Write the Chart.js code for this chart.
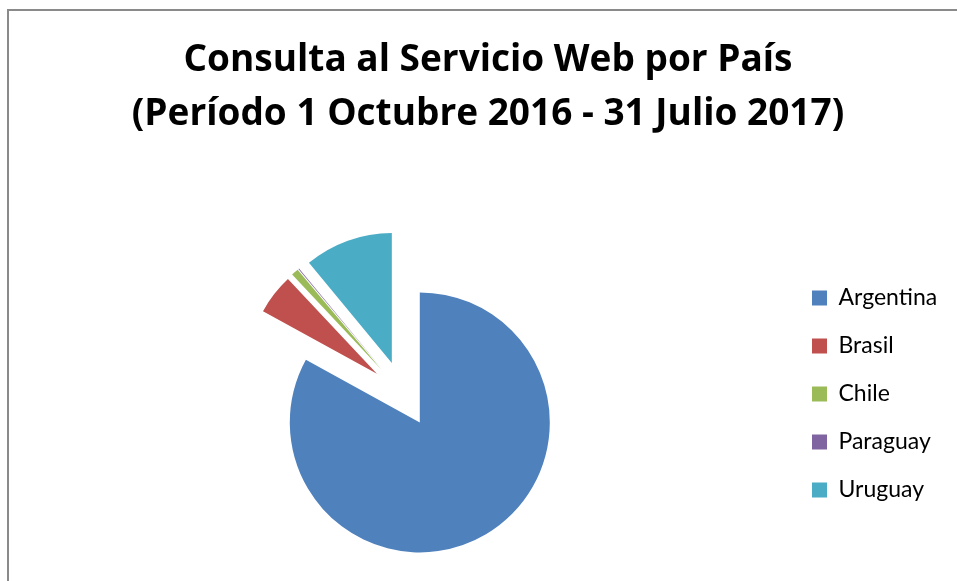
<!DOCTYPE html>
<html>
<head>
<meta charset="utf-8">
<script src="https://cdn.jsdelivr.net/npm/chart.js@4/dist/chart.umd.min.js"></script>
<style>
  html, body { margin: 0; padding: 0; background: #fff; overflow: hidden; }
  #frame {
    position: absolute; left: 7px; top: 9px; width: 960px; height: 600px;
    border-left: 2px solid #8a8a8a; border-top: 2px solid #8a8a8a;
  }
  #wrap { position: absolute; left: 0; top: 0; width: 957px; height: 581px; }
</style>
</head>
<body>
<div id="frame"></div>
<div id="wrap"><canvas id="pieChart" width="957" height="581"></canvas></div>
<script>
// Consultas por país (porcentaje aprox.)
const paises = ["Argentina", "Brasil", "Chile", "Paraguay", "Uruguay"];
const consultas = [83.0, 5.0, 0.9, 0.1, 11.0];
const colores = ["#4F81BD", "#C0504D", "#9BBB59", "#8064A2", "#4BACC6"];
const titulo = ["Consulta al Servicio Web por País", "(Período 1 Octubre 2016 - 31 Julio 2017)"];

const EXPLOSION = 33;      // px, todos los sectores separados del centro
const ANCHO_LEYENDA = 170; // espacio total reservado a la derecha

// Separa cada sector en la dirección de su ángulo medio (estilo Excel),
// sin cambiar radio ni ángulos como hace la opción "offset" de Chart.js.
const explotarSectores = {
  id: "explotarSectores",
  afterDatasetsUpdate(chart) {
    chart.getDatasetMeta(0).data.forEach(arc => {
      const mid = (arc.startAngle + arc.endAngle) / 2;
      arc.x += Math.cos(mid) * EXPLOSION;
      arc.y += Math.sin(mid) * EXPLOSION;
    });
  }
};

// Caja vacía a la derecha de la leyenda: completa el ancho reservado
// sin mover el título (que ocupa todo el ancho).
const espacioDerecho = {
  id: "espacioDerecho",
  beforeInit(chart) {
    Chart.layouts.addBox(chart, {
      position: "right",
      weight: 3000,
      fullSize: false,
      options: {},
      isHorizontal: () => false,
      update(maxWidth, maxHeight) {
        const leyenda = chart.legend ? chart.legend.width : 0;
        this.width = Math.max(ANCHO_LEYENDA - leyenda, 0);
        this.height = maxHeight;
      },
      draw() {}
    });
  }
};

const ctx = document.getElementById("pieChart").getContext("2d");
new Chart(ctx, {
  type: "pie",
  data: {
    labels: paises,
    datasets: [{
      data: consultas,
      backgroundColor: colores,
      borderWidth: 0,
      radius: 130,
      clip: false
    }]
  },
  options: {
    responsive: false,
    animation: false,
    events: [],
    layout: { padding: { left: 19, right: 0, top: 0, bottom: 0 } },
    plugins: {
      title: {
        display: true,
        text: titulo,
        color: "#000",
        font: { family: "'Open Sans'", size: 37, weight: "bold", lineHeight: "54px" },
        padding: { top: 33, bottom: 66 }
      },
      legend: {
        position: "right",
        align: "center",
        fullSize: false,
        labels: {
          color: "#000",
          font: { family: "Lato", size: 23 },
          boxWidth: 15,
          boxHeight: 15,
          padding: 25
        }
      },
      tooltip: { enabled: false }
    }
  },
  plugins: [explotarSectores, espacioDerecho]
});
</script>
</body>
</html>
